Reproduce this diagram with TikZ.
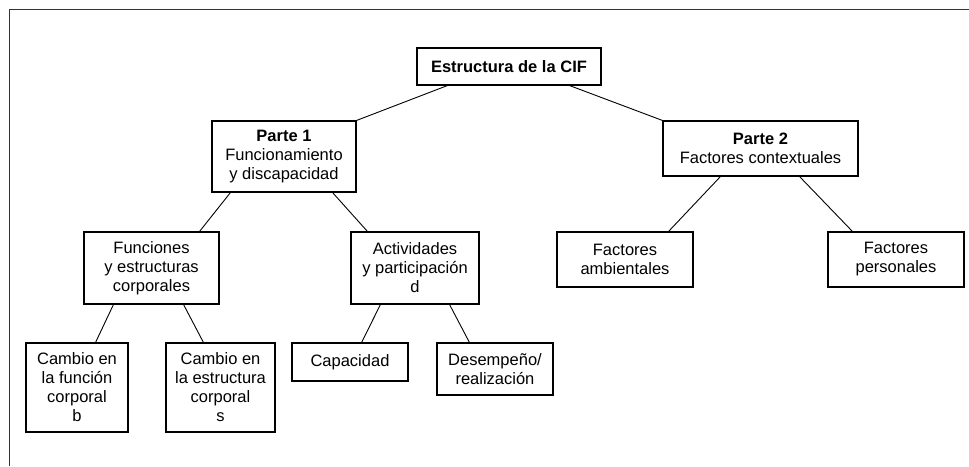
\documentclass[tikz,border=0pt]{standalone}
\usepackage{fontspec}
\setmainfont{Liberation Sans}
\begin{document}
\begin{tikzpicture}[x=1pt,y=-1pt,
  box/.style={draw=black, line width=1.1pt, rectangle, inner sep=0pt, align=center,
    font=\fontsize{16.5}{19}\selectfont},
  conn/.style={draw=black, line width=0.9pt}]
\useasboundingbox (0,0) rectangle (969,466);
% frame
\coordinate (fbl) at (9.5,466);
\coordinate (ftl) at (9.5,9.5);
\coordinate (ftr) at (969,9.5);
\draw[line width=1.8pt, black!80] (fbl) -- (ftl) -- (ftr);
% nodes
\node[box, minimum width=184pt, minimum height=37pt] (root) at (509,66.5) {\textbf{Estructura de la CIF}};
\node[box, minimum width=144pt, minimum height=71pt] (p1) at (284,156.5) {\textbf{Parte 1}\\Funcionamiento\\y discapacidad};
\node[box, minimum width=195pt, minimum height=55pt] (p2) at (760.5,148.5) {\textbf{Parte 2}\\Factores contextuales};
\node[box, minimum width=135pt, minimum height=72pt] (fun) at (151.5,268) {Funciones\\y estructuras\\corporales};
\node[box, minimum width=128pt, minimum height=72pt] (act) at (415,268) {Actividades\\y participación\\d};
\node[box, minimum width=102pt, minimum height=89pt] (cam1) at (77,387.5) {Cambio en\\la función\\corporal\\b};
\node[box, minimum width=109pt, minimum height=89pt] (cam2) at (220.5,387.5) {Cambio en\\la estructura\\corporal\\s};
\node[box, minimum width=116pt, minimum height=38pt] (cap) at (350,362) {Capacidad};
\node[box, minimum width=116pt, minimum height=52pt] (des) at (495,369) {Desempeño/\\realización};
\node[box, minimum width=136pt, minimum height=55pt] (fa) at (625,259.5) {Factores\\ambientales};
\node[box, minimum width=136pt, minimum height=55pt] (fp) at (896,259.5) {Factores\\personales};
% connectors
\draw[conn] ([xshift=31pt]root.south west) -- (p1.north east);
\draw[conn] ([xshift=-32pt]root.south east) -- (p2.north west);
\draw[conn] ([xshift=19pt]p1.south west) -- ([xshift=-20pt]fun.north east);
\draw[conn] ([xshift=-24pt]p1.south east) -- ([xshift=17pt]act.north west);
\draw[conn] ([xshift=30pt]fun.south west) -- ([xshift=-33pt]cam1.north east);
\draw[conn] ([xshift=-36pt]fun.south east) -- ([xshift=38pt]cam2.north west);
\draw[conn] ([xshift=30pt]act.south west) -- ([xshift=-47pt]cap.north east);
\draw[conn] ([xshift=-30pt]act.south east) -- ([xshift=33pt]des.north west);
\draw[conn] ([xshift=58pt]p2.south west) -- ([xshift=-25pt]fa.north east);
\draw[conn] ([xshift=-59pt]p2.south east) -- ([xshift=25pt]fp.north west);
\end{tikzpicture}
\end{document}
